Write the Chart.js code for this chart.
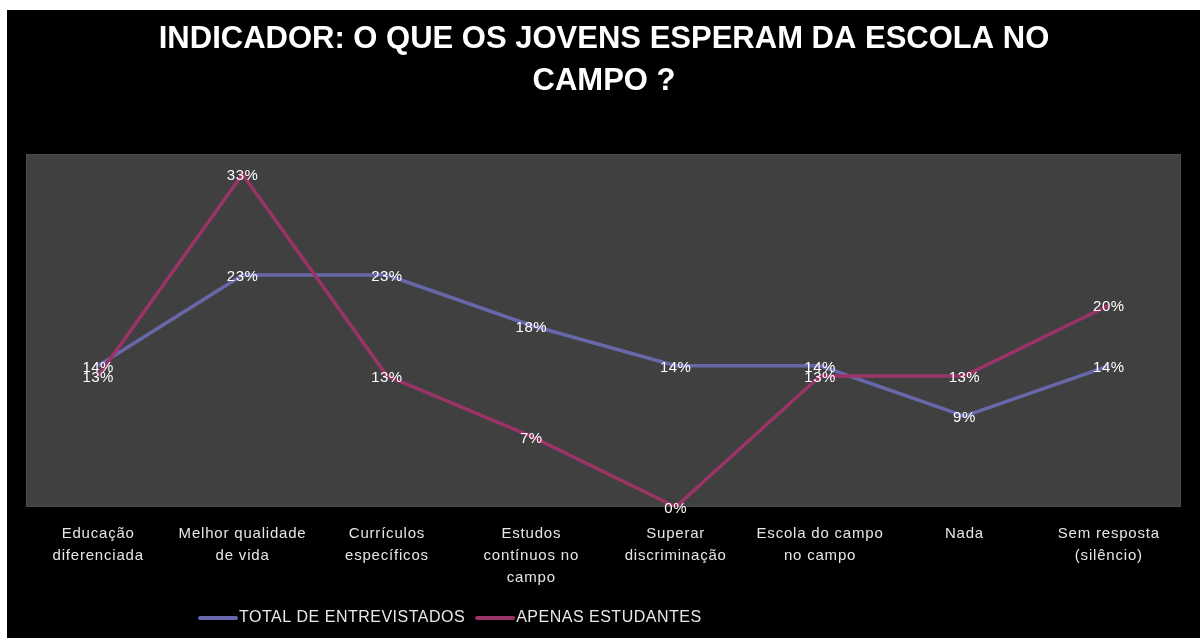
<!DOCTYPE html>
<html>
<head>
<meta charset="utf-8">
<script src="https://cdn.jsdelivr.net/npm/chart.js@4.4.1/dist/chart.umd.min.js"></script>
<style>
  html, body { margin: 0; padding: 0; background: #fff; }
  #wrap { position: relative; width: 1200px; height: 638px; }
</style>
</head>
<body>
<div id="wrap"><canvas id="chart" width="1200" height="638"></canvas></div>
<script>
  var categories = [
    ['Educação', 'diferenciada'],
    ['Melhor qualidade', 'de vida'],
    ['Currículos', 'específicos'],
    ['Estudos', 'contínuos no', 'campo'],
    ['Superar', 'discriminação'],
    ['Escola do campo', 'no campo'],
    ['Nada'],
    ['Sem resposta', '(silêncio)']
  ];
  var totalEntrevistados = [14, 23, 23, 18, 14, 14, 9, 14];
  var apenasEstudantes = [13, 33, 13, 7, 0, 13, 13, 20];
  var titleLines = ['INDICADOR: O QUE OS JOVENS ESPERAM DA ESCOLA NO', 'CAMPO ?'];

  var BLUE = '#6767a9';
  var MAGENTA = '#9a3366';
  var FONT = '"Liberation Sans", Arial, sans-serif';

  var framePlugin = {
    id: 'frame',
    beforeDraw: function (chart) {
      var ctx = chart.ctx, a = chart.chartArea;
      ctx.save();
      ctx.fillStyle = '#ffffff';
      ctx.fillRect(0, 0, chart.width, chart.height);
      ctx.fillStyle = '#000000';
      ctx.fillRect(7, 10, chart.width - 7, chart.height - 10);
      ctx.fillStyle = '#404040';
      ctx.fillRect(a.left, a.top, a.right - a.left, a.bottom - a.top);
      ctx.strokeStyle = '#4c4c4c';
      ctx.lineWidth = 1;
      ctx.strokeRect(a.left + 0.5, a.top + 0.5, a.right - a.left - 1, a.bottom - a.top - 1);
      // title
      ctx.fillStyle = '#ffffff';
      ctx.font = 'bold 31px ' + FONT;
      ctx.textAlign = 'center';
      ctx.textBaseline = 'middle';
      ctx.fillText(titleLines[0], 604, 39);
      ctx.fillText(titleLines[1], 604, 81);
      ctx.restore();
      // wider spacing for the axis labels, like the original
      if ('letterSpacing' in ctx) ctx.letterSpacing = '0.8px';
    },
    afterDraw: function (chart) {
      var ctx = chart.ctx;
      ctx.save();
      // data labels centred on each point
      if ('letterSpacing' in ctx) ctx.letterSpacing = '0.5px';
      ctx.font = '15px ' + FONT;
      ctx.fillStyle = '#ffffff';
      ctx.textAlign = 'center';
      ctx.textBaseline = 'middle';
      chart.data.datasets.forEach(function (ds, i) {
        var meta = chart.getDatasetMeta(i);
        meta.data.forEach(function (pt, j) {
          ctx.fillText(ds.data[j] + '%', pt.x, pt.y + 2);
        });
      });
      // legend
      ctx.font = '16px ' + FONT;
      ctx.textAlign = 'left';
      ctx.fillStyle = '#e8e8e8';
      var x = 200, y = 618;
      chart.data.datasets.forEach(function (ds) {
        ctx.strokeStyle = ds.borderColor;
        ctx.lineWidth = 4;
        ctx.lineCap = 'round';
        ctx.beginPath();
        ctx.moveTo(x, y);
        ctx.lineTo(x + 36, y);
        ctx.stroke();
        x += 39;
        ctx.fillText(ds.label, x, y);
        x += ctx.measureText(ds.label).width + 12;
      });
      ctx.restore();
      if ('letterSpacing' in ctx) ctx.letterSpacing = '0px';
    }
  };

  new Chart(document.getElementById('chart'), {
    type: 'line',
    data: {
      labels: categories,
      datasets: [
        {
          label: 'TOTAL DE ENTREVISTADOS',
          data: totalEntrevistados,
          borderColor: BLUE,
          backgroundColor: BLUE,
          borderWidth: 3.5,
          pointRadius: 0,
          tension: 0,
          order: 2
        },
        {
          label: 'APENAS ESTUDANTES',
          data: apenasEstudantes,
          borderColor: MAGENTA,
          backgroundColor: MAGENTA,
          borderWidth: 3.5,
          pointRadius: 0,
          tension: 0,
          order: 1
        }
      ]
    },
    options: {
      responsive: false,
      animation: false,
      layout: { padding: { left: 26, right: 19, top: 154, bottom: 0 } },
      plugins: {
        legend: { display: false },
        title: { display: false },
        tooltip: { enabled: false }
      },
      scales: {
        x: {
          offset: true,
          grid: { display: false, drawTicks: false },
          border: { display: false },
          ticks: {
            color: '#e6e6e6',
            font: { family: FONT, size: 15, lineHeight: 1.45 },
            padding: 16,
            maxRotation: 0,
            autoSkip: false
          },
          afterFit: function (s) { s.height = 131; }
        },
        y: {
          display: false,
          min: 0,
          max: 35
        }
      }
    },
    plugins: [framePlugin]
  });
</script>
</body>
</html>
